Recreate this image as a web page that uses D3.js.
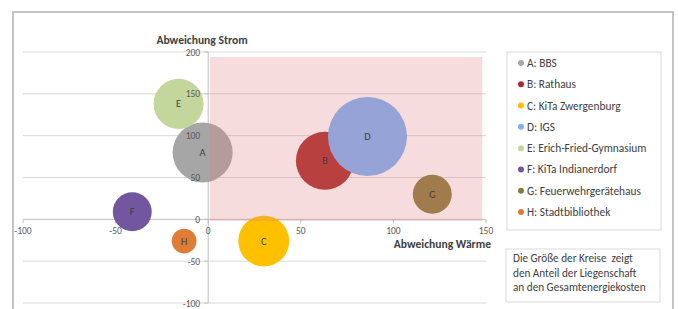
<!DOCTYPE html>
<html><head><meta charset="utf-8">
<script src="https://cdn.jsdelivr.net/npm/d3@7"></script>
<style>
html,body{margin:0;padding:0;background:#fff;}
svg{display:block;font-family:Carlito,Calibri,Lato,"Open Sans",sans-serif;}
</style></head>
<body><svg id="c" width="678" height="309"></svg>
<script>
// ---- data ----
const labels = ["A","B","C","D","E","F","G","H"];
const names = ["A: BBS","B: Rathaus","C: KiTa Zwergenburg","D: IGS","E: Erich-Fried-Gymnasium","F: KiTa Indianerdorf","G: Feuerwehrgerätehaus","H: Stadtbibliothek"];
const waerme = [-3, 63, 30, 86, -16, -41, 121, -13];   // Abweichung Wärme (x)
const strom  = [80, 70, -26, 99, 138, 9, 30, -26];     // Abweichung Strom (y)
const anteil = [16.4, 15.3, 11.8, 28.4, 11.4, 6.9, 6.9, 2.8]; // Anteil Gesamtenergiekosten
const colors = ["#a6a6a6","#aa2b2a","#ffc000","#7ab1f9","#c3d69b","#7356a0","#8a7a3a","#e07c37"];
const xTicks = [-100,-50,0,50,100,150];
const yTicks = [-100,-50,0,50,100,150,200];
const zoneX = [1,148], zoneY = [-2,194];
const noteLines = ["Die Größe der Kreise  zeigt","den Anteil der Liegenschaft","an den Gesamtenergiekosten"];

const svg = d3.select("#c");
const x = d3.scaleLinear().domain([-100,150]).range([23,486]);
const y = d3.scaleLinear().domain([-100,200]).range([303,52]);
const r = d3.scaleSqrt().domain([0,d3.max(anteil)]).range([0,39.5]);

// outer frame
svg.append("rect").attr("x",13).attr("y",12).attr("width",660).attr("height",320)
  .attr("fill","none").attr("stroke","#c4c4c4").attr("stroke-width",2);

// gridlines
svg.append("g").selectAll("line").data(yTicks.filter(d=>d!==0)).join("line")
  .attr("x1",x(-100)).attr("x2",x(150)).attr("y1",d=>y(d)).attr("y2",d=>y(d))
  .attr("stroke","#d9d9d9").attr("stroke-width",1);

// axes lines
svg.append("line").attr("x1",x(-100)).attr("x2",x(150)).attr("y1",y(0)).attr("y2",y(0)).attr("stroke","#bfbfbf");
svg.append("line").attr("x1",x(0)).attr("x2",x(0)).attr("y1",y(-100)).attr("y2",y(200)).attr("stroke","#bfbfbf");
svg.append("g").selectAll("line").data(xTicks).join("line")
  .attr("x1",d=>x(d)).attr("x2",d=>x(d)).attr("y1",y(0)).attr("y2",y(0)+4).attr("stroke","#bfbfbf");
svg.append("g").selectAll("line").data(yTicks).join("line")
  .attr("x1",x(0)-4).attr("x2",x(0)).attr("y1",d=>y(d)).attr("y2",d=>y(d)).attr("stroke","#bfbfbf");

// bubbles
const idx = d3.range(labels.length);
svg.append("g").selectAll("circle").data(idx).join("circle")
  .attr("cx",i=>x(waerme[i])).attr("cy",i=>y(strom[i])).attr("r",i=>r(anteil[i]))
  .attr("fill",i=>colors[i]);

// pink zone overlay
svg.append("rect").attr("x",x(zoneX[0])).attr("y",y(zoneY[1]))
  .attr("width",x(zoneX[1])-x(zoneX[0])).attr("height",y(zoneY[0])-y(zoneY[1]))
  .attr("fill","rgb(222,126,126)").attr("fill-opacity",0.27);

// tick labels
const tc = "#595959";
svg.append("g").selectAll("text").data(xTicks).join("text")
  .attr("x",d=>x(d)).attr("y",y(0)+15).attr("text-anchor","middle")
  .attr("font-size",9.5).attr("fill",tc).text(d=>d);
svg.append("g").selectAll("text").data(yTicks).join("text")
  .attr("x",x(0)-8).attr("y",d=>y(d)+3.5).attr("text-anchor","end")
  .attr("font-size",9.5).attr("fill",tc).text(d=>d);

// bubble labels
svg.append("g").selectAll("text").data(idx).join("text")
  .attr("x",i=>x(waerme[i])).attr("y",i=>y(strom[i])+3.5).attr("text-anchor","middle")
  .attr("font-size",10.5).attr("fill","#404040").text(i=>labels[i]);

// axis titles
svg.append("text").attr("x",202).attr("y",44).attr("text-anchor","middle")
  .attr("font-size",11.6).attr("font-weight","bold").attr("fill","#404040").text("Abweichung Strom");
svg.append("text").attr("x",491).attr("y",248).attr("text-anchor","end")
  .attr("font-size",11.6).attr("font-weight","bold").attr("fill","#404040").text("Abweichung Wärme");

// legend
const lg = svg.append("g");
lg.append("rect").attr("x",507).attr("y",52).attr("width",154).attr("height",178)
  .attr("fill","#fff").attr("stroke","#d9d9d9");
const ly = d3.scaleLinear().domain([0,7]).range([63,212]);
const li = lg.selectAll("g").data(idx).join("g").attr("transform",i=>`translate(0,${ly(i)})`);
li.append("circle").attr("cx",521).attr("cy",0).attr("r",3).attr("fill",i=>colors[i]);
li.append("text").attr("x",527).attr("y",4).attr("font-size",11.4).attr("fill","#404040").text(i=>names[i]);

// note box
const ng = svg.append("g");
ng.append("rect").attr("x",506).attr("y",249).attr("width",154).attr("height",53)
  .attr("fill","#fff").attr("stroke","#d9d9d9");
ng.selectAll("text").data(noteLines).join("text")
  .attr("x",513).attr("y",(d,i)=>262+i*14.5).attr("font-size",11.2).attr("fill","#404040")
  .attr("xml:space","preserve").style("white-space","pre").text(d=>d);
</script>
</body></html>
